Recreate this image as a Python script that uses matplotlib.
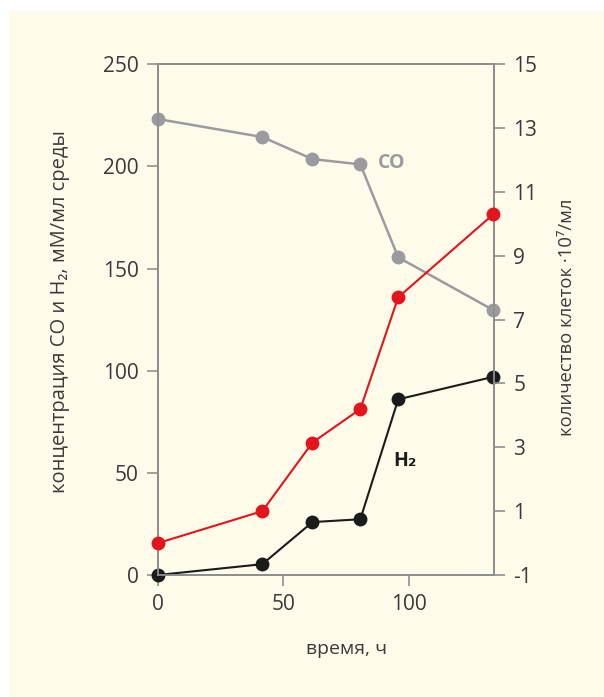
import matplotlib.pyplot as plt
from matplotlib.patches import Rectangle

plt.rcParams['font.family'] = ['Open Sans', 'DejaVu Sans']
plt.rcParams['axes.unicode_minus'] = False

# Data
time_h = [0, 41.6, 61.6, 80.7, 95.8, 133.7]
co_conc = [223.2, 214.4, 203.6, 201.0, 155.5, 129.7]   # mM/ml medium
h2_conc = [0.0, 5.3, 25.9, 27.3, 86.0, 97.0]           # mM/ml medium
cells = [0.0, 1.0, 3.15, 4.2, 7.7, 10.3]               # x10^7 per ml

left_ticks = [0, 50, 100, 150, 200, 250]
right_ticks = [-1, 1, 3, 5, 7, 9, 11, 13, 15]
x_ticks = [0, 50, 100]

bg = '#fffbea'
spine_col = '#8f8f8f'
text_col = '#3a3a3a'
gray = '#9b9b9f'
red = '#e3141c'
black = '#1b1b1b'

fig = plt.figure(figsize=(6.04, 6.97), dpi=100)
fig.patch.set_facecolor('white')
fig.patches.append(Rectangle((9 / 604, 0), 1, 1 - 11 / 697, transform=fig.transFigure,
                             facecolor=bg, edgecolor='none', zorder=-10))

ax = fig.add_axes([158 / 604, 1 - 575 / 697, 336 / 604, (575 - 64.3) / 697])
ax.set_facecolor('none')
ax2 = ax.twinx()

ax.plot(time_h, co_conc, color=gray, lw=1.8, marker='o', ms=10, mec='none', clip_on=False, zorder=3)
ax.plot(time_h, h2_conc, color=black, lw=1.5, marker='o', ms=10, mec='none', clip_on=False, zorder=3)
ax2.plot(time_h, cells, color=red, lw=1.5, marker='o', ms=10, mec='none', clip_on=False, zorder=3)

ax.set_xlim(0, 134)
ax.set_ylim(0, 250)
ax2.set_ylim(-1, 15)
ax.set_xticks(x_ticks)
ax.set_yticks(left_ticks)
ax2.set_yticks(right_ticks)

for a in (ax, ax2):
    for s in a.spines.values():
        s.set_color(spine_col)
        s.set_linewidth(1.3)
    a.tick_params(direction='out', length=8, width=1.2, color=spine_col,
                  labelcolor=text_col, labelsize=15, pad=6)

ax.set_xlabel('время, ч', fontsize=14, color=text_col)
ax.xaxis.set_label_coords(0.56, -0.128)
ax.set_ylabel('концентрация CO и H₂, мМ/мл среды', fontsize=14.5, color=text_col)
ax.yaxis.set_label_coords(-0.262, 0.515)
ax2.set_ylabel('количество клеток ·10⁷/мл', fontsize=13.3, color=text_col, rotation=90)
ax2.yaxis.set_label_coords(1.19, 0.504)

ax.text(93, 201.5, 'CO', color=gray, fontsize=14, fontweight='bold', ha='center', va='center')
ax.text(98.3, 56, 'H₂', color=black, fontsize=14, fontweight='bold', ha='center', va='center')

fig.savefig('out.png', dpi=100, facecolor=fig.get_facecolor())
